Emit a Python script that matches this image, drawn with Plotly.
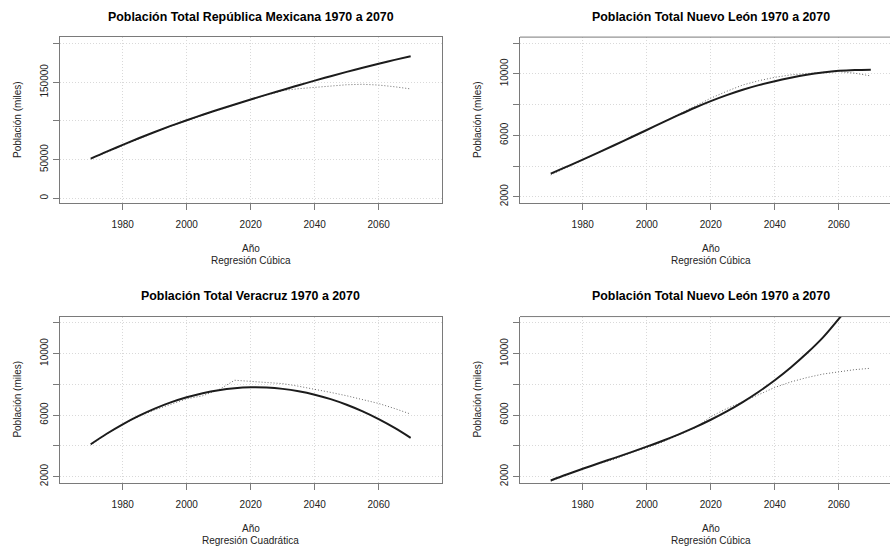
import plotly.graph_objects as go

# ---------------- data (thousands of inhabitants) ----------------
years = [1970, 1975, 1980, 1985, 1990, 1995, 2000, 2005, 2010, 2015, 2020,
         2025, 2030, 2035, 2040, 2045, 2050, 2055, 2060, 2065, 2070]

mex_obs = [50800, 59600, 68500, 77200, 85300, 93300, 100400, 107600, 114500, 121200, 127500,
           133300, 139300, 141800, 143600, 145500, 146900, 147500, 146500, 144300, 141500]
mex_fit = [51300, 60300, 69000, 77600, 85800, 93600, 101000, 108000, 114800, 121400, 127800,
           134100, 140200, 146300, 152200, 158000, 163600, 169000, 174200, 179100, 183800]

nl1_obs = [3420, 3900, 4400, 4860, 5330, 5830, 6330, 6850, 7380, 7900, 8420,
           8870, 9280, 9560, 9780, 9940, 10040, 10110, 10150, 10050, 9870]
nl1_fit = [3510, 3960, 4420, 4890, 5370, 5860, 6350, 6840, 7330, 7800, 8230,
           8620, 8970, 9270, 9530, 9750, 9940, 10090, 10200, 10260, 10280]

ver_obs = [4050, 4760, 5390, 5900, 6330, 6700, 7050, 7250, 7640, 8260, 8190,
           8120, 8040, 7870, 7680, 7470, 7250, 7010, 6750, 6420, 6060]
ver_fit = [4095, 4780, 5394, 5939, 6414, 6819, 7155, 7420, 7615, 7741, 7797,
           7783, 7699, 7545, 7322, 7029, 6665, 6233, 5729, 5157, 4514]

nl2_obs = [1700, 2110, 2510, 2840, 3120, 3540, 3860, 4250, 4680, 5150, 5890,
           6420, 6860, 7350, 7790, 8150, 8430, 8660, 8820, 8950, 9040]
nl2_fit = [1740, 2131, 2502, 2860, 3214, 3571, 3940, 4328, 4744, 5195, 5690,
           6235, 6840, 7512, 8260, 9089, 10010, 11031, 12250, 13500, 14900]

titles = ["Población Total República Mexicana 1970 a 2070",
          "Población Total Nuevo León 1970 a 2070",
          "Población Total Veracruz 1970 a 2070",
          "Población Total Nuevo León 1970 a 2070"]
subtitles = ["Regresión Cúbica", "Regresión Cúbica",
             "Regresión Cuadrática", "Regresión Cúbica"]
x_ticks = [1980, 2000, 2020, 2040, 2060]
y_ticks_mex = [0, 50000, 100000, 150000, 200000]
y_text_mex = ["0", "50000", "", "150000", ""]
y_ticks_st = [2000, 4000, 6000, 8000, 10000, 12000]
y_text_st = ["2000", "", "6000", "", "10000", ""]

# ---------------- layout geometry ----------------
W, H = 890, 552
FONT = "Liberation Sans, Arial, sans-serif"
BOX = "#7a7a7a"

panels = [
    # (px left, px right, px top, px bottom, xrange, yrange, obs, fit, yticks, ytext, full box)
    (60, 441.7, 37.3, 204.0, [1960.4, 2079.7], [-6050, 208600], mex_obs, mex_fit, y_ticks_mex, y_text_mex, True),
    (520, 890, 37.3, 204.0, [1960.4, 2076.0], [1600, 12400], nl1_obs, nl1_fit, y_ticks_st, y_text_st, False),
    (60, 441.7, 318.3, 485.3, [1960.4, 2079.7], [1600, 12400], ver_obs, ver_fit, y_ticks_st, y_text_st, True),
    (520, 890, 318.3, 485.3, [1960.4, 2076.0], [1600, 12400], nl2_obs, nl2_fit, y_ticks_st, y_text_st, False),
]

fig = go.Figure()
annotations = []
shapes = []

for i, (l, r, t, b, xr, yr, obs, fit, yt, ytt, fullbox) in enumerate(panels):
    k = "" if i == 0 else str(i + 1)
    xa, ya = "x" + k, "y" + k
    fig.add_trace(go.Scatter(x=years, y=obs, mode="lines", xaxis=xa, yaxis=ya,
                             line=dict(color="#6a6a6a", width=1, dash="1px,2px"),
                             hoverinfo="skip", showlegend=False))
    fig.add_trace(go.Scatter(x=years, y=fit, mode="lines", xaxis=xa, yaxis=ya,
                             line=dict(color="#1c1c1c", width=2, shape="spline", smoothing=1),
                             hoverinfo="skip", showlegend=False))
    common = dict(showgrid=True, gridcolor="#d9d9d9", griddash="1px,2px", gridwidth=1,
                  zeroline=False, showline=True, linecolor=BOX, linewidth=1,
                  mirror=fullbox, ticks="outside", ticklen=6, tickcolor=BOX,
                  tickwidth=1, tickfont=dict(family=FONT, size=10, color="#222222"),
                  fixedrange=True)
    fig.layout["xaxis" + k] = dict(common, domain=[l / W, r / W], range=xr,
                                   anchor=ya, tickmode="array", tickvals=x_ticks,
                                   ticktext=[str(v) for v in x_ticks],
                                   ticklabelstandoff=6)
    fig.layout["yaxis" + k] = dict(common, domain=[1 - b / H, 1 - t / H], range=yr,
                                   anchor=xa, tickmode="array", tickvals=yt,
                                   ticktext=ytt, tickangle=-90,
                                   ticklabelstandoff=1)
    if not fullbox:
        shapes.append(dict(type="line", xref=xa + " domain", yref=ya + " domain",
                           x0=0, x1=1.05, y0=1, y1=1,
                           line=dict(color=BOX, width=1)))
    cx = (l + r) / 2 if fullbox else (l + 441.7 - 60 + l) / 2
    annotations.append(dict(text="<b>" + titles[i] + "</b>", xref="paper", yref="paper",
                            x=cx / W, y=1 - (t - 20.3) / H, showarrow=False,
                            xanchor="center", yanchor="middle",
                            font=dict(family=FONT, size=12.4, color="#000000")))
    annotations.append(dict(text="Año", xref="paper", yref="paper",
                            x=cx / W, y=1 - (b + 46.3) / H, showarrow=False,
                            xanchor="center", yanchor="middle",
                            font=dict(family=FONT, size=10, color="#222222")))
    annotations.append(dict(text=subtitles[i], xref="paper", yref="paper",
                            x=cx / W, y=1 - (b + 58) / H, showarrow=False,
                            xanchor="center", yanchor="middle",
                            font=dict(family=FONT, size=10, color="#222222")))
    annotations.append(dict(text="Población (miles)", xref="paper", yref="paper",
                            x=(l - 42) / W, y=1 - ((t + b) / 2) / H, showarrow=False,
                            xanchor="center", yanchor="middle", textangle=-90,
                            font=dict(family=FONT, size=10, color="#222222")))

fig.update_layout(width=W, height=H, autosize=False,
                  margin=dict(l=0, r=0, t=0, b=0),
                  paper_bgcolor="white", plot_bgcolor="white",
                  annotations=annotations, shapes=shapes,
                  font=dict(family=FONT))

fig.write_html("out.html", config={"displayModeBar": False},
               post_script="document.body.style.margin='0';document.body.style.overflow='hidden';")
